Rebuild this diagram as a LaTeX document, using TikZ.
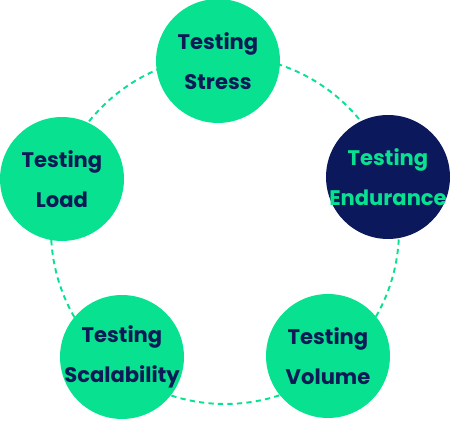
\documentclass[tikz,border=0pt]{standalone}
\usepackage{fontspec}
\setmainfont{Poppins}
\definecolor{mint}{HTML}{08E290}
\definecolor{navy}{HTML}{0B195C}
\definecolor{navytext}{HTML}{0C1A55}
\tikzset{
  bubble/.style={circle, fill=mint, minimum size=2.48cm, inner sep=-20pt, align=center,
    text=navytext, font=\bfseries\fontsize{12}{22.8}\selectfont},
  darkbubble/.style={bubble, fill=navy, text=mint},
  ring/.style={mint, line width=1.1pt, dash pattern=on 3pt off 2.4pt}
}
\begin{document}
\begin{tikzpicture}[x=0.02cm,y=-0.02cm]
\useasboundingbox (0,0) rectangle (450,421);
\coordinate (hub) at (225,230);
\draw[ring] (hub) circle (174);
\node[bubble] (stress) at (218,61) {Testing\\Stress};
\node[darkbubble] (endurance) at (388,177) {Testing\\Endurance};
\node[bubble] (load) at (62,179) {Testing\\Load};
\node[bubble] (scal) at (122,357) {Testing\\Scalability};
\node[bubble] (volume) at (328,356) {Testing\\Volume};
\end{tikzpicture}
\end{document}
